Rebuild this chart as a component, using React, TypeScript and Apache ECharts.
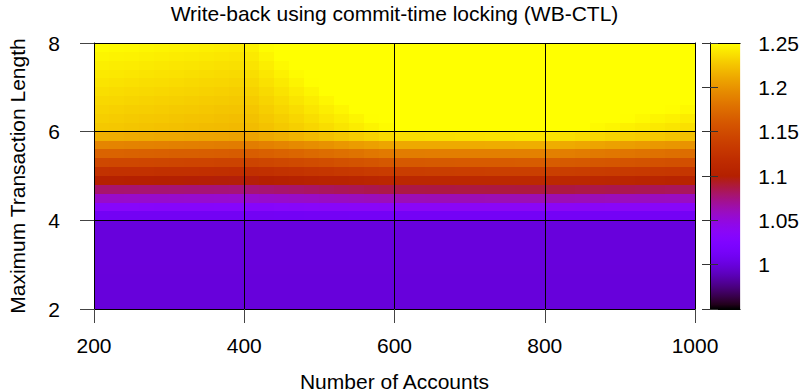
import React, { useEffect, useRef } from "react";
import * as echarts from "echarts";

// ---- data ----
const accounts = [200, 400, 600, 800, 1000];
const txLengths = [2, 4, 6, 8];
const speedupTx2 = [0.999, 0.999, 0.999, 0.999, 0.999];
const speedupTx4 = [1.0, 1.0, 1.0, 1.0, 1.0];
const speedupTx6 = [1.226, 1.218, 1.248, 1.252, 1.234];
const speedupTx8 = [1.25, 1.243, 1.29, 1.3, 1.285];
const xTicks = [200, 400, 600, 800, 1000];
const yTicks = [2, 4, 6, 8];
const cbTicks = [1, 1.05, 1.1, 1.15, 1.2, 1.25];

const CB_MIN = 0.95;
const CB_MAX = 1.25;
const SUB = 10;
const FONT = "'Liberation Sans', Arial, Helvetica, sans-serif";
const FS = 21;

function palette(v: number): string {
  let t = (v - CB_MIN) / (CB_MAX - CB_MIN);
  t = Math.max(0, Math.min(1, t));
  const r = Math.sqrt(t);
  const g = t * t * t;
  const b = Math.max(0, Math.min(1, Math.sin(2 * Math.PI * t)));
  return `rgb(${Math.round(r * 255)},${Math.round(g * 255)},${Math.round(b * 255)})`;
}

export default function App() {
  const ref = useRef<HTMLDivElement>(null);
  useEffect(() => {
    if (!ref.current) return;
    const chart = echarts.init(ref.current, null, { renderer: "svg" });
    const rows = [speedupTx2, speedupTx4, speedupTx6, speedupTx8];
    const cells: number[][] = [];
    for (let j = 0; j < txLengths.length - 1; j++) {
      for (let i = 0; i < accounts.length - 1; i++) {
        cells.push([
          accounts[i], txLengths[j], accounts[i + 1], txLengths[j + 1],
          rows[j][i], rows[j][i + 1], rows[j + 1][i], rows[j + 1][i + 1],
        ]);
      }
    }
    const stops: { offset: number; color: string }[] = [];
    const N = 60;
    for (let k = 0; k <= N; k++) {
      stops.push({ offset: k / N, color: palette(CB_MIN + ((CB_MAX - CB_MIN) * k) / N) });
    }
    const fmt = (v: number) => {
      if (Math.abs(v - CB_MIN) < 1e-6) return "";
      return String(parseFloat(v.toFixed(2)));
    };
    chart.setOption({
      animation: false,
      textStyle: { fontFamily: FONT },
      grid: [
        { left: 94, right: 107, top: 43, bottom: 82 },
        { left: 710, width: 31, top: 43, bottom: 82 },
      ],
      graphic: [
        {
          type: "text", x: 394.5, y: 13,
          style: { text: "Write-back using commit-time locking (WB-CTL)", fontSize: FS, fontFamily: FONT, fill: "#000", align: "center", verticalAlign: "middle" },
        },
        {
          type: "text", x: 394.5, y: 381,
          style: { text: "Number of Accounts", fontSize: FS, fontFamily: FONT, fill: "#000", align: "center", verticalAlign: "middle" },
        },
        {
          type: "text", x: 17, y: 176, rotation: Math.PI / 2,
          style: { text: "Maximum Transaction Length", fontSize: FS, fontFamily: FONT, fill: "#000", align: "center", verticalAlign: "middle" },
        },
      ],
      xAxis: [
        {
          gridIndex: 0, type: "value", min: xTicks[0], max: xTicks[xTicks.length - 1], interval: 200, z: 5,
          axisLine: { show: true, lineStyle: { color: "#000", width: 1 } },
          axisTick: { show: true, inside: false, length: 14, lineStyle: { color: "#444" } },
          axisLabel: { fontSize: FS, color: "#000", margin: 26, fontFamily: FONT, formatter: (v: number) => String(v) },
          splitLine: { show: true, lineStyle: { color: "#000", width: 1 } },
        },
        {
          gridIndex: 0, type: "value", position: "top", min: 200, max: 1000, z: 5,
          axisLine: { show: true, lineStyle: { color: "#000" } },
          axisTick: { show: false }, axisLabel: { show: false }, splitLine: { show: false },
        },
        {
          gridIndex: 1, type: "value", min: 0, max: 1, z: 5,
          axisLine: { show: true, lineStyle: { color: "#000" } },
          axisTick: { show: false }, axisLabel: { show: false }, splitLine: { show: false },
        },
        {
          gridIndex: 1, type: "value", position: "top", min: 0, max: 1, z: 5,
          axisLine: { show: true, lineStyle: { color: "#000" } },
          axisTick: { show: false }, axisLabel: { show: false }, splitLine: { show: false },
        },
      ],
      yAxis: [
        {
          gridIndex: 0, type: "value", min: yTicks[0], max: yTicks[yTicks.length - 1], interval: 2, z: 5,
          axisLine: { show: true, lineStyle: { color: "#000", width: 1 } },
          axisTick: { show: true, inside: false, length: 14, lineStyle: { color: "#444" } },
          axisLabel: { fontSize: FS, color: "#000", margin: 34, fontFamily: FONT },
          splitLine: { show: true, lineStyle: { color: "#000", width: 1 } },
        },
        {
          gridIndex: 0, type: "value", position: "right", min: 2, max: 8, z: 5,
          axisLine: { show: true, lineStyle: { color: "#000" } },
          axisTick: { show: false }, axisLabel: { show: false }, splitLine: { show: false },
        },
        {
          gridIndex: 1, type: "value", position: "right", min: CB_MIN, max: cbTicks[cbTicks.length - 1], interval: 0.05, z: 5,
          axisLine: { show: true, lineStyle: { color: "#000" } },
          axisTick: { show: true, inside: true, length: 8, lineStyle: { color: "#333" } },
          axisLabel: { fontSize: FS, color: "#000", margin: 18, fontFamily: FONT, formatter: fmt },
          splitLine: { show: false },
        },
        {
          gridIndex: 1, type: "value", position: "left", min: CB_MIN, max: CB_MAX, interval: 0.05, z: 5,
          axisLine: { show: true, lineStyle: { color: "#000" } },
          axisTick: { show: true, inside: true, length: 8, lineStyle: { color: "#333" } },
          axisLabel: { show: false }, splitLine: { show: false },
        },
      ],
      series: [
        {
          type: "custom",
          xAxisIndex: 0,
          yAxisIndex: 0,
          silent: true,
          data: cells,
          encode: { x: [0, 2], y: [1, 3] },
          renderItem: (_params: any, api: any) => {
            const x0 = api.value(0), y0 = api.value(1), x1 = api.value(2), y1 = api.value(3);
            const v00 = api.value(4), v10 = api.value(5), v01 = api.value(6), v11 = api.value(7);
            const children: any[] = [];
            for (let a = 0; a < SUB; a++) {
              for (let b = 0; b < SUB; b++) {
                const pa = api.coord([x0 + ((x1 - x0) * a) / SUB, y0 + ((y1 - y0) * b) / SUB]);
                const pb = api.coord([x0 + ((x1 - x0) * (a + 1)) / SUB, y0 + ((y1 - y0) * (b + 1)) / SUB]);
                const u = (a + 0.5) / SUB, w = (b + 0.5) / SUB;
                const v = v00 * (1 - u) * (1 - w) + v10 * u * (1 - w) + v01 * (1 - u) * w + v11 * u * w;
                const l = Math.round(Math.min(pa[0], pb[0]));
                const r = Math.round(Math.max(pa[0], pb[0]));
                const t = Math.round(Math.min(pa[1], pb[1]));
                const bt = Math.round(Math.max(pa[1], pb[1]));
                children.push({
                  type: "rect",
                  shape: { x: l, y: t, width: r - l, height: bt - t },
                  style: { fill: palette(v), lineWidth: 0 },
                });
              }
            }
            return { type: "group", children };
          },
        },
        {
          type: "custom",
          xAxisIndex: 2,
          yAxisIndex: 2,
          silent: true,
          data: [[0, CB_MIN, 1, CB_MAX]],
          encode: { x: [0, 2], y: [1, 3] },
          renderItem: (_params: any, api: any) => {
            const a = api.coord([api.value(0), api.value(1)]);
            const b = api.coord([api.value(2), api.value(3)]);
            return {
              type: "rect",
              shape: { x: a[0], y: b[1], width: b[0] - a[0], height: a[1] - b[1] },
              style: { fill: new echarts.graphic.LinearGradient(0, 1, 0, 0, stops), lineWidth: 0 },
            };
          },
        },
      ],
    });
    return () => chart.dispose();
  }, []);
  return (
    <div
      ref={ref}
      style={{ position: "fixed", left: 0, top: 0, width: 802, height: 391, background: "#fff" }}
    />
  );
}
